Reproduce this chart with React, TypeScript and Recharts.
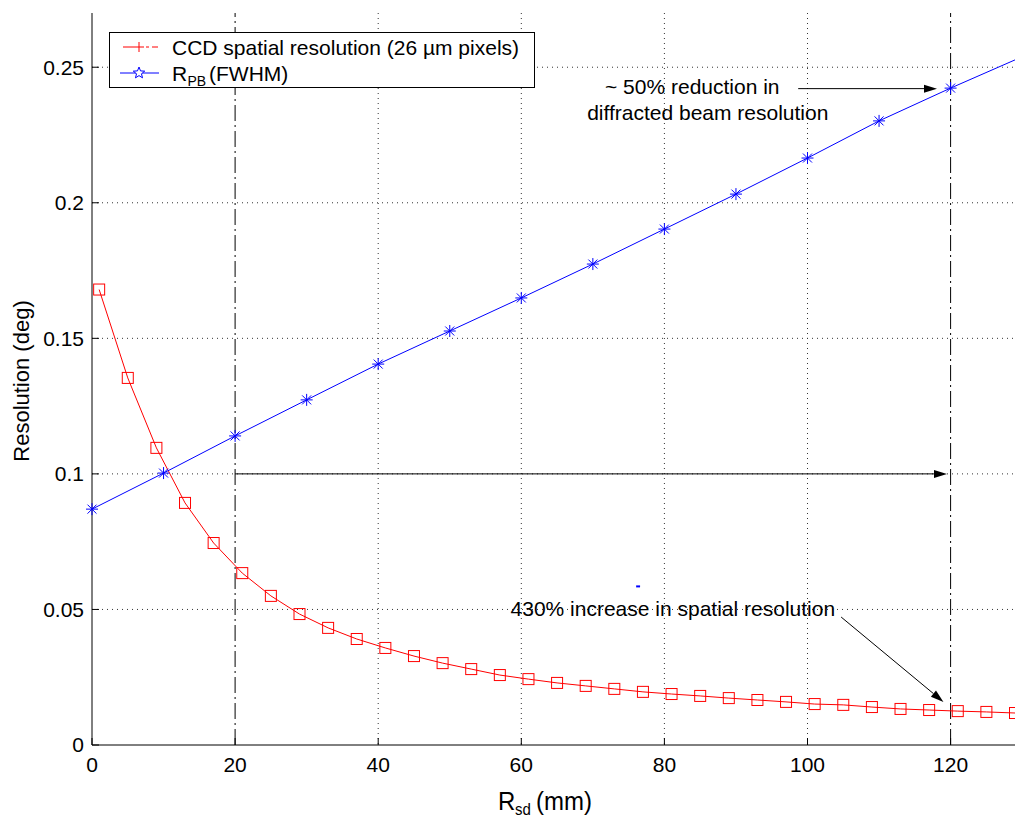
import React from "react";
import {
  ComposedChart,
  Line,
  XAxis,
  YAxis,
  CartesianGrid,
  ReferenceLine,
  ReferenceDot,
  Legend,
} from "recharts";

document.body.style.margin = "0";

const FONT = "'Liberation Sans', Arial, sans-serif";
const RED = "#ff0000";
const BLUE = "#0000ff";
const TICK_LEN = 7;

// CCD spatial resolution (26 µm pixels) against R_sd (mm)
const ccdDistance = [
  1, 5, 9, 13, 17, 21, 25, 29, 33, 37, 41, 45, 49, 53, 57, 61, 65, 69, 73, 77, 81, 85, 89, 93,
  97, 101, 105, 109, 113, 117, 121, 125, 129,
];
const ccdResolution = [
  0.168, 0.1354, 0.1096, 0.0893, 0.0745, 0.0634, 0.055, 0.0483, 0.0432, 0.0391, 0.0358, 0.0328,
  0.0302, 0.028, 0.0258, 0.0243, 0.0229, 0.0218, 0.0207, 0.0196, 0.0188, 0.0181, 0.0173, 0.0166,
  0.0159, 0.0151, 0.0148, 0.014, 0.0133, 0.0129, 0.0125, 0.0122, 0.0118,
];

// R_PB (FWHM); the 129 mm entry is where the line leaves the axes (no marker)
const pbDistance = [0, 10, 20, 30, 40, 50, 60, 70, 80, 90, 100, 110, 120, 129];
const pbResolution = [
  0.087, 0.1003, 0.114, 0.1273, 0.1405, 0.1527, 0.1649, 0.1774, 0.1903, 0.2032, 0.2165, 0.2302,
  0.2423, 0.2527,
];

const xDomain = [0, 129];
const yDomain = [0, 0.27];
const xTicks = [0, 20, 40, 60, 80, 100, 120];
const yTicks = [0, 0.05, 0.1, 0.15, 0.2, 0.25];
const gridX = [40, 60, 80, 100];
const gridY = [0.05, 0.1, 0.15, 0.2, 0.25];
const markedDistances = [20, 120];

// annotation arrows [x, y] -> [x, y]
const arrows = [
  { from: [98.7, 0.2421], to: [118.1, 0.2421] },
  { from: [20, 0.1], to: [119.5, 0.1] },
  { from: [104.7, 0.0472], to: [119, 0.0159] },
];
const notes = [
  { x: 71.7, y: 0.2401, text: "~ 50% reduction in" },
  { x: 69.2, y: 0.2305, text: "diffracted beam resolution" },
  { x: 58.5, y: 0.0476, text: "430% increase in spatial resolution" },
];

const ccdData = ccdDistance.map((x, i) => ({ x, y: ccdResolution[i] }));
const pbData = pbDistance.map((x, i) => ({ x, y: pbResolution[i] }));

const Square = ({ cx, cy }: any) => (
  <rect x={cx - 5.5} y={cy - 5.5} width={11} height={11} fill="none" stroke={RED} strokeWidth={1} />
);

const Asterisk = ({ cx, cy }: any) => (
  <g stroke={BLUE} strokeWidth={1}>
    <line x1={cx - 6} y1={cy} x2={cx + 6} y2={cy} />
    <line x1={cx} y1={cy - 6} x2={cx} y2={cy + 6} />
    <line x1={cx - 4.5} y1={cy - 4.5} x2={cx + 4.5} y2={cy + 4.5} />
    <line x1={cx - 4.5} y1={cy + 4.5} x2={cx + 4.5} y2={cy - 4.5} />
  </g>
);

const XTick = ({ x, y, payload }: any) => (
  <g>
    <line x1={x} x2={x} y1={y} y2={y - TICK_LEN} stroke="#000" />
    <text x={x} y={y + 12} dy="0.71em" textAnchor="middle" fontSize={21} fontFamily={FONT} fill="#000">
      {payload.value}
    </text>
  </g>
);

const TopTick = ({ x, y }: any) => <line x1={x} x2={x} y1={y} y2={y + TICK_LEN} stroke="#000" />;

const YTick = ({ x, y, payload }: any) => (
  <g>
    <line x1={x} x2={x + TICK_LEN} y1={y} y2={y} stroke="#000" />
    <text x={x - 8} y={y} dy="0.355em" textAnchor="end" fontSize={21} fontFamily={FONT} fill="#000">
      {payload.value}
    </text>
  </g>
);

const XTitle = ({ viewBox }: any) => {
  const vb = viewBox || { x: 84, y: 737 };
  return (
    <g transform={`translate(${vb.x + 406},${vb.y + 65}) scale(1,1.1)`}>
      <text fontFamily={FONT} fontSize={24} fill="#000">
        <tspan x={0} y={0}>R</tspan>
        <tspan x={17} y={4.5} fontSize={15}>sd</tspan>
        <tspan x={38} y={0}>(mm)</tspan>
      </text>
    </g>
  );
};

const YTitle = ({ viewBox }: any) => {
  const vb = viewBox || { y: 5, height: 732 };
  return (
    <text
      transform={`translate(20.5,${vb.y + vb.height / 2 + 2}) rotate(-90)`}
      textAnchor="middle"
      fontFamily={FONT}
      fontSize={22}
      fill="#000"
    >
      Resolution (deg)
    </text>
  );
};

const Arrow = ({ x1, y1, x2, y2 }: any) => {
  const a = Math.atan2(y2 - y1, x2 - x1);
  const len = 13;
  const hw = 4;
  const bx = x2 - len * Math.cos(a);
  const by = y2 - len * Math.sin(a);
  const s = Math.sin(a);
  const c = Math.cos(a);
  const head = `${x2},${y2} ${bx - hw * s},${by + hw * c} ${bx + hw * s},${by - hw * c}`;
  return (
    <g>
      <line x1={x1} y1={y1} x2={bx} y2={by} stroke="#000" strokeWidth={1} />
      <polygon points={head} fill="#000" />
    </g>
  );
};

const noteShape = (text: string) => ({ cx, cy }: any) => (
  <text x={cx} y={cy} fontFamily={FONT} fontSize={21} fill="#000">
    {text}
  </text>
);

const star = (cx: number, cy: number, ro: number, ri: number) => {
  const pts: string[] = [];
  for (let i = 0; i < 10; i++) {
    const r = i % 2 === 0 ? ro : ri;
    const ang = -Math.PI / 2 + (i * Math.PI) / 5;
    pts.push(`${cx + r * Math.cos(ang)},${cy + r * Math.sin(ang)}`);
  }
  return pts.join(" ");
};

const LegendBox = () => (
  <svg width={427} height={57} style={{ display: "block" }}>
    <rect x={0.5} y={0.5} width={425} height={55} fill="#fff" stroke="#000" />
    <g stroke={RED} strokeWidth={1}>
      <line x1={14} y1={15} x2={35} y2={15} />
      <line x1={37} y1={15} x2={40} y2={15} />
      <line x1={43} y1={15} x2={49} y2={15} />
      <line x1={30} y1={10} x2={30} y2={20} />
    </g>
    <text x={63} y={23} fontFamily={FONT} fontSize={21} fill="#000">
      CCD spatial resolution (26 µm pixels)
    </text>
    <line x1={11} y1={41} x2={50} y2={41} stroke={BLUE} strokeWidth={1} />
    <polygon points={star(30, 41, 6, 2.6)} fill="#fff" stroke={BLUE} strokeWidth={1} />
    <text fontFamily={FONT} fontSize={21} fill="#000">
      <tspan x={63} y={49}>R</tspan>
      <tspan x={78.5} y={54} fontSize={14}>PB</tspan>
      <tspan x={100} y={49}>(FWHM)</tspan>
    </text>
  </svg>
);

export default function App() {
  return (
    <div style={{ padding: "8px 0 0 8px", width: 1007, height: 813 }}>
      <ComposedChart width={1007} height={813} margin={{ top: 5, right: 0, bottom: 0, left: 0 }}>
        <CartesianGrid
          stroke="#333"
          strokeDasharray="1 4"
          horizontalValues={gridY}
          verticalValues={gridX}
        />
        <XAxis
          dataKey="x"
          type="number"
          domain={xDomain}
          ticks={xTicks}
          height={76}
          tickSize={0}
          tickMargin={0}
          tickLine={false}
          tick={<XTick />}
          axisLine={{ stroke: "#000" }}
          label={<XTitle />}
        />
        <XAxis
          xAxisId="top"
          orientation="top"
          type="number"
          domain={xDomain}
          ticks={xTicks}
          height={0}
          tickSize={0}
          tickMargin={0}
          tickLine={false}
          tick={<TopTick />}
          axisLine={{ stroke: "#000" }}
        />
        <YAxis
          type="number"
          domain={yDomain}
          ticks={yTicks}
          width={84}
          tickSize={0}
          tickMargin={0}
          tickLine={false}
          tick={<YTick />}
          axisLine={{ stroke: "#000" }}
          label={<YTitle />}
        />
        {markedDistances.map((d) => (
          <ReferenceLine key={d} x={d} stroke="#000" strokeWidth={1} strokeDasharray="16 4 2 4" />
        ))}
        <ReferenceLine
          segment={[
            { x: 76.05, y: 0.0585 },
            { x: 76.6, y: 0.0585 },
          ]}
          stroke={BLUE}
          strokeWidth={2}
        />
        <Line
          data={ccdData}
          dataKey="y"
          type="linear"
          stroke={RED}
          strokeWidth={1}
          dot={(p: any) => <Square key={`c${p.index}`} cx={p.cx} cy={p.cy} />}
          isAnimationActive={false}
        />
        <Line
          data={pbData}
          dataKey="y"
          type="linear"
          stroke={BLUE}
          strokeWidth={1}
          dot={(p: any) =>
            p.payload.x <= xTicks[xTicks.length - 1] ? (
              <Asterisk key={`p${p.index}`} cx={p.cx} cy={p.cy} />
            ) : (
              <g key={`p${p.index}`} />
            )
          }
          isAnimationActive={false}
        />
        {arrows.map((a, i) => (
          <ReferenceLine
            key={`a${i}`}
            segment={[
              { x: a.from[0], y: a.from[1] },
              { x: a.to[0], y: a.to[1] },
            ]}
            shape={(p: any) => <Arrow {...p} />}
          />
        ))}
        {notes.map((n, i) => (
          <ReferenceDot key={`n${i}`} x={n.x} y={n.y} r={0} shape={noteShape(n.text)} />
        ))}
        <Legend
          layout="horizontal"
          verticalAlign="middle"
          align="center"
          content={() => <LegendBox />}
          wrapperStyle={{ top: 24, left: 101, width: 427, height: 57 }}
        />
      </ComposedChart>
    </div>
  );
}
